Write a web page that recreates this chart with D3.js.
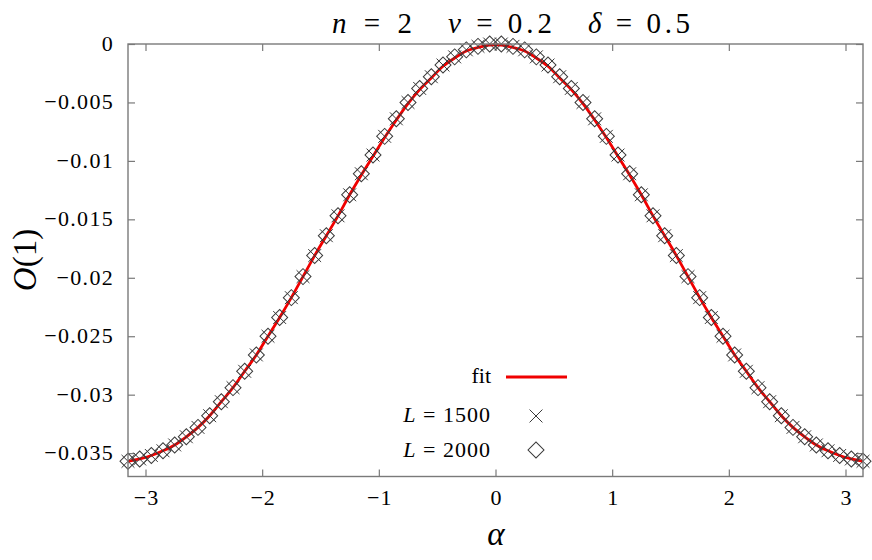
<!DOCTYPE html>
<html><head><meta charset="utf-8">
<script src="https://cdn.jsdelivr.net/npm/d3@7"></script>
<style>
html,body{margin:0;padding:0;background:#fff;}
svg{display:block;}
svg text{font-family:"Liberation Serif","DejaVu Serif","Noto Serif","Times New Roman",Times,serif;}
</style></head>
<body>
<svg id="chart" width="872" height="560"></svg>
<script>
// ---- data ----
const alpha = [-3.15,-3.05,-2.95,-2.85,-2.75,-2.65,-2.55,-2.45,-2.35,-2.25,-2.15,-2.05,-1.95,-1.85,-1.75,-1.65,
  -1.55,-1.45,-1.35,-1.25,-1.15,-1.05,-0.95,-0.85,-0.75,-0.65,-0.55,-0.45,-0.35,-0.25,-0.15,-0.05,
  0.05,0.15,0.25,0.35,0.45,0.55,0.65,0.75,0.85,0.95,1.05,1.15,1.25,1.35,1.45,1.55,
  1.65,1.75,1.85,1.95,2.05,2.15,2.25,2.35,2.45,2.55,2.65,2.75,2.85,2.95,3.05,3.15];
const L2000 = [-0.0357,-0.0355,-0.0352,-0.0348,-0.0343,-0.0336,-0.0328,-0.0318,-0.0306,-0.0294,-0.0280,-0.0266,-0.0250,-0.0234,-0.0217,-0.0199,
  -0.0181,-0.0164,-0.0147,-0.0129,-0.0111,-0.0095,-0.0079,-0.0064,-0.0050,-0.0038,-0.0028,-0.0018,-0.0011,-0.0005,-0.0002,0.0000,
  0.0000,-0.0002,-0.0005,-0.0011,-0.0018,-0.0028,-0.0038,-0.0050,-0.0064,-0.0079,-0.0095,-0.0111,-0.0129,-0.0147,-0.0164,-0.0181,
  -0.0199,-0.0217,-0.0234,-0.0250,-0.0266,-0.0280,-0.0294,-0.0306,-0.0318,-0.0328,-0.0336,-0.0343,-0.0348,-0.0352,-0.0355,-0.0357];
const L1500 = [-0.0357,-0.0355,-0.0352,-0.0348,-0.0343,-0.0336,-0.0328,-0.0318,-0.0306,-0.0294,-0.0280,-0.0266,-0.0250,-0.0234,-0.0217,-0.0199,
  -0.0181,-0.0164,-0.0147,-0.0129,-0.0111,-0.0095,-0.0079,-0.0064,-0.0050,-0.0038,-0.0028,-0.0018,-0.0011,-0.0005,-0.0002,0.0000,
  0.0000,-0.0002,-0.0005,-0.0011,-0.0018,-0.0028,-0.0038,-0.0050,-0.0064,-0.0079,-0.0095,-0.0111,-0.0129,-0.0147,-0.0164,-0.0181,
  -0.0199,-0.0217,-0.0234,-0.0250,-0.0266,-0.0280,-0.0294,-0.0306,-0.0318,-0.0328,-0.0336,-0.0343,-0.0348,-0.0352,-0.0355,-0.0357];
const fitVals = [-0.0357,-0.0355,-0.0352,-0.0348,-0.0343,-0.0336,-0.0328,-0.0318,-0.0306,-0.0294,-0.0280,-0.0266,-0.0250,-0.0234,-0.0217,-0.0199,
  -0.0181,-0.0164,-0.0147,-0.0129,-0.0112,-0.0096,-0.0080,-0.0065,-0.0051,-0.0039,-0.0029,-0.0019,-0.0012,-0.0006,-0.0003,-0.0001,
  -0.0001,-0.0003,-0.0006,-0.0012,-0.0019,-0.0029,-0.0039,-0.0051,-0.0065,-0.0080,-0.0096,-0.0112,-0.0129,-0.0147,-0.0164,-0.0181,
  -0.0199,-0.0217,-0.0234,-0.0250,-0.0266,-0.0280,-0.0294,-0.0306,-0.0318,-0.0328,-0.0336,-0.0343,-0.0348,-0.0352,-0.0355,-0.0357];
const xTicks = [-3,-2,-1,0,1,2,3];
const xTickLabels = ["\u22123","\u22122","\u22121","0","1","2","3"];
const yTicks = [0,-0.005,-0.01,-0.015,-0.02,-0.025,-0.03,-0.035];
const yTickLabels = ["0","\u22120.005","\u22120.01","\u22120.015","\u22120.02","\u22120.025","\u22120.03","\u22120.035"];
const xDomain = [-3.15, 3.15];
const yDomain = [-0.037, 0];

// ---- layout ----
const svg = d3.select("#chart");
const m = {left:128, right:863, top:44, bottom:476.5};
const x = d3.scaleLinear().domain(xDomain).range([m.left, m.right]);
const y = d3.scaleLinear().domain(yDomain).range([m.bottom, m.top]);
const frameColor = "#7a7a7a";

// ticks (inward, mirrored) via d3 axes
const tickLen = 7;
function styleTicks(g){ g.select(".domain").remove(); g.selectAll("line").attr("stroke",frameColor).attr("stroke-width",1.2); }
svg.append("g").attr("transform",`translate(0,${m.bottom})`)
  .call(d3.axisTop(x).tickValues(xTicks).tickSize(tickLen).tickFormat("")).call(styleTicks);
svg.append("g").attr("transform",`translate(0,${m.top})`)
  .call(d3.axisBottom(x).tickValues(xTicks).tickSize(tickLen).tickFormat("")).call(styleTicks);
svg.append("g").attr("transform",`translate(${m.left},0)`)
  .call(d3.axisRight(y).tickValues(yTicks).tickSize(tickLen).tickFormat("")).call(styleTicks);
svg.append("g").attr("transform",`translate(${m.right},0)`)
  .call(d3.axisLeft(y).tickValues(yTicks).tickSize(tickLen).tickFormat("")).call(styleTicks);

// tick labels
svg.append("g").selectAll("text").data(xTicks).join("text")
  .attr("x",d=>x(d)+1).attr("y",505)
  .attr("text-anchor","middle").style("font-size","22px").attr("letter-spacing",1)
  .text((d,i)=>xTickLabels[i]);
svg.append("g").selectAll("text").data(yTicks).join("text")
  .attr("x",114).attr("y",d=>y(d)+7)
  .attr("text-anchor","end").style("font-size","22px")
  .attr("letter-spacing",1.3)
  .text((d,i)=>yTickLabels[i]);

// fit line
const pts = alpha.map((a,i)=>({a, v:fitVals[i]}));
const line = d3.line().x(d=>x(d.a)).y(d=>y(d.v)).curve(d3.curveCatmullRom);
svg.append("path").datum(pts).attr("d",line)
  .attr("fill","none").attr("stroke","#f00000").attr("stroke-width",2.8);

// markers
const mk = "#3a3a3a";
const crossSym = d3.symbol().type(d3.symbolX).size(110);
const diamSym = d3.symbol().type(d3.symbolSquare).size(128);
svg.append("g").selectAll("path").data(alpha).join("path")
  .attr("d",crossSym())
  .attr("transform",(a,i)=>`translate(${x(a)},${y(L1500[i])})`)
  .attr("fill","none").attr("stroke",mk).attr("stroke-width",1);
svg.append("g").selectAll("path").data(alpha).join("path")
  .attr("d",diamSym())
  .attr("transform",(a,i)=>`translate(${x(a)},${y(L2000[i])}) rotate(45)`)
  .attr("fill","none").attr("stroke",mk).attr("stroke-width",1);

// frame
svg.append("rect").attr("x",m.left).attr("y",m.top)
  .attr("width",m.right-m.left).attr("height",m.bottom-m.top)
  .attr("fill","none").attr("stroke",frameColor).attr("stroke-width",1.4);

// legend
const lg = svg.append("g").style("font-size","22px");
lg.append("text").attr("x",491).attr("y",383).attr("text-anchor","end").text("fit");
lg.append("line").attr("x1",506).attr("x2",567).attr("y1",377).attr("y2",377)
  .attr("stroke","#f00000").attr("stroke-width",2.8);
const t1 = lg.append("text").attr("x",491).attr("y",421.5).attr("text-anchor","end").attr("letter-spacing",1);
t1.append("tspan").attr("font-style","italic").text("L");
t1.append("tspan").text(" = 1500");
lg.append("path").attr("d",crossSym()).attr("transform","translate(536,416)")
  .attr("fill","none").attr("stroke",mk).attr("stroke-width",1);
const t2 = lg.append("text").attr("x",491).attr("y",457).attr("text-anchor","end").attr("letter-spacing",1);
t2.append("tspan").attr("font-style","italic").text("L");
t2.append("tspan").text(" = 2000");
lg.append("path").attr("d",diamSym()).attr("transform","translate(536,450) rotate(45)")
  .attr("fill","none").attr("stroke",mk).attr("stroke-width",1);

// title
const tt = svg.append("g").style("font-size","29px");
function titlePart(xs, sym, rest, len){
  const t = tt.append("text").attr("x",xs).attr("y",33).attr("textLength",len).attr("lengthAdjust","spacing");
  t.append("tspan").attr("font-style","italic").text(sym);
  t.append("tspan").text(rest);
}
titlePart(332,"n"," = 2",80);
titlePart(448,"\u03bd"," = 0.2",104);
titlePart(588,"\u03b4"," = 0.5",102);

// axis titles
svg.append("text").attr("x",496).attr("y",545).attr("text-anchor","middle")
  .style("font-size","33px").attr("font-style","italic").text("\u03b1");
const yl = svg.append("text").attr("transform","translate(36,260) rotate(-90)").attr("text-anchor","middle")
  .style("font-size","33px");
yl.append("tspan").attr("font-style","italic").text("O");
yl.append("tspan").text("(1)");
</script>
</body></html>
